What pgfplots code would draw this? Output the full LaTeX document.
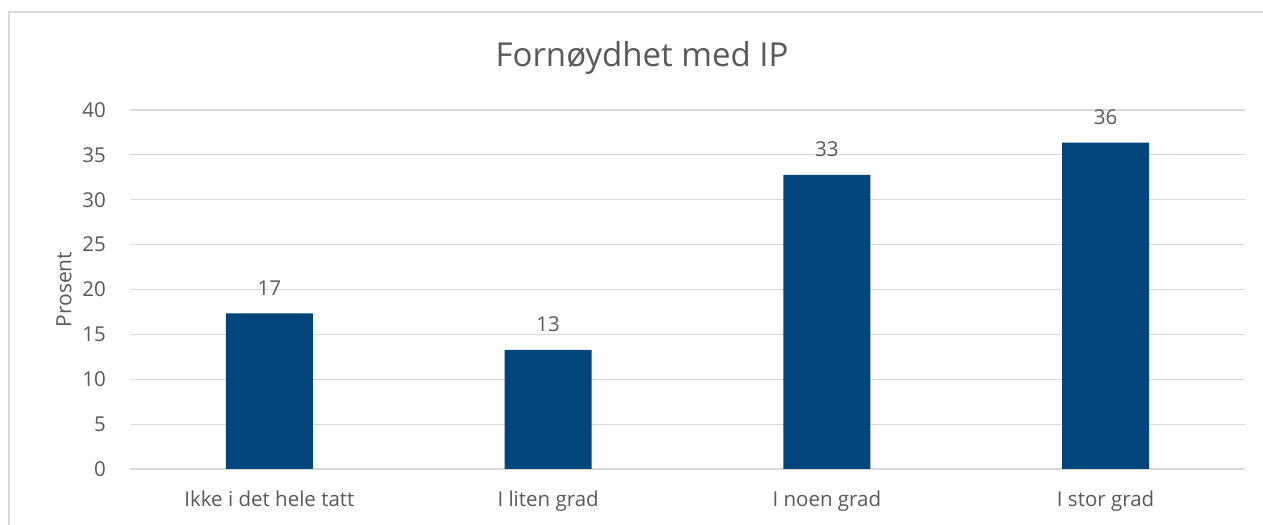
\documentclass[border=0pt]{standalone}
\usepackage{fontspec}
\setmainfont{Open Sans}
\usepackage{pgfplots}
\pgfplotsset{compat=1.18}
\definecolor{barblue}{RGB}{0,69,124}
\definecolor{txt}{RGB}{89,89,89}
\definecolor{grid}{RGB}{217,217,217}
\begin{document}
\begin{tikzpicture}[x=1bp,y=1bp]
\path[use as bounding box, fill=white] (0,0) rectangle (1263,525);
\draw[color=grid, line width=1.5bp] (9,0) -- (9,513) -- (1263,513);
\node[anchor=base, text=txt, font=\fontsize{33bp}{38bp}\selectfont, inner sep=0pt] at (642,458) {Fornøydhet med IP};
\begin{axis}[
  at={(130bp,56bp)}, anchor=south west,
  scale only axis, width=1115bp, height=359bp,
  xmin=-0.5, xmax=3.5, ymin=0, ymax=40,
  ytick={0,5,...,40},
  xtick={0,1,2,3},
  xticklabels={Ikke i det hele tatt, I liten grad, I noen grad, I stor grad},
  ymajorgrids,
  grid style={color=grid, line width=1.2bp},
  axis line style={draw=none},
  major tick length=0pt,
  tick label style={text=txt, font=\fontsize{20.5bp}{24bp}\selectfont, inner sep=0pt},
  yticklabel style={xshift=-24bp},
  xticklabel style={yshift=-22bp},
  ylabel={Prosent},
  ylabel style={at={(axis description cs:-0.0592,0.5)}, anchor=center, rotate=0, text=txt, font=\fontsize{21bp}{24bp}\selectfont, inner sep=0pt},
  ybar, bar width=87bp,
  nodes near coords={\pgfmathprintnumber[fixed,precision=0]{\pgfplotspointmeta}},
  nodes near coords style={text=txt, font=\fontsize{20.5bp}{24bp}\selectfont, inner sep=0pt, anchor=south, yshift=18bp},
  /pgf/number format/assume math mode=true,
]
\addplot[fill=barblue, draw=none] coordinates {(0,17.35) (1,13.27) (2,32.77) (3,36.36)};
\end{axis}
\end{tikzpicture}
\end{document}
